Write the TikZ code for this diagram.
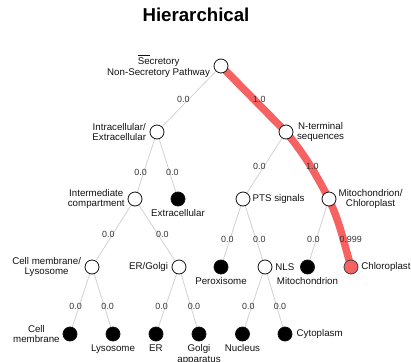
\documentclass[tikz,border=0pt]{standalone}
\usepackage{fontspec}
\setmainfont{Liberation Sans}
\usepackage{tikz}
\usetikzlibrary{positioning,backgrounds}
\definecolor{htbest}{HTML}{F66262}
\definecolor{htlink}{HTML}{D2D2D2}
\definecolor{htink}{HTML}{111111}
\tikzset{
  split/.style={circle,draw=htink,line width=0.6pt,fill=white,minimum size=10.5pt,inner sep=0pt},
  leaf/.style={circle,draw=htink,line width=0.6pt,fill=black,minimum size=10.5pt,inner sep=0pt},
  hit/.style={circle,draw=htink!80,line width=0.6pt,fill=htbest,minimum size=10.5pt,inner sep=0pt},
  link/.style={draw=htlink,line width=0.6pt},
  best/.style={draw=htbest,line width=5.6pt,line join=round},
  lab/.style={font=\fontsize{7.3pt}{8pt}\selectfont,align=center,inner sep=1pt,text=htink},
  elab/.style={font=\fontsize{6.7pt}{7pt}\selectfont,inner sep=0pt,text=htink!85},
}

\begin{document}
\begin{tikzpicture}[x=0.75pt,y=-0.75pt]
  \useasboundingbox (0,0) rectangle (411,361);
  \node[font=\fontsize{14pt}{16pt}\selectfont\bfseries] (title) at (196,14.5) {Hierarchical};

  % ---------- tree nodes ----------
  \node[split] (root) at (221,66) {};
  \node[split] (intra) at (157,132) {};
  \node[split] (nterm) at (286,132) {};
  \node[split] (inter) at (135,199) {};
  \node[leaf]  (extra) at (178,199) {};
  \node[split] (pts) at (243,199) {};
  \node[split] (mitchl) at (329,199) {};
  \node[split] (memlys) at (92,267) {};
  \node[split] (ergol) at (179,267) {};
  \node[leaf]  (perox) at (221,267) {};
  \node[split] (nls) at (265,267) {};
  \node[leaf]  (mitoc) at (307.5,267) {};
  \node[hit]   (chlor) at (351,267) {};
  \node[leaf]  (cellm) at (70,334) {};
  \node[leaf]  (lysos) at (113,334) {};
  \node[leaf]  (er) at (156,334) {};
  \node[leaf]  (golgi) at (199,334) {};
  \node[leaf]  (nucl) at (242.5,334) {};
  \node[leaf]  (cyto) at (285,334) {};

  % ---------- node labels ----------
  \node[lab,left=1.5pt of root] (rootl) {$\overline{\mbox{Se}}$cretory\\Non-Secretory Pathway};
  \node[lab,left=1.5pt of intra] (intral) {Intracellular/\\Extracellular};
  \node[lab,right=1.5pt of nterm] (nterml) {N-terminal\\sequences};
  \node[lab,left=1pt of inter] (interl) {Intermediate\\compartment};
  \node[lab,below=1pt of extra] (extral) {Extracellular};
  \node[lab,right=0.5pt of pts] (ptsl) {PTS signals};
  \node[lab,right=0.5pt of mitchl] (mitchll) {Mitochondrion/\\Chloroplast};
  \node[lab,left=1.5pt of memlys] (memlysl) {Cell membrane/\\Lysosome};
  \node[lab,left=1.5pt of ergol] (ergoll) {ER/Golgi};
  \node[lab,below=1pt of perox] (peroxl) {Peroxisome};
  \node[lab,right=1pt of nls] (nlsl) {NLS};
  \node[lab,below=1pt of mitoc] (mitocl) {Mitochondrion};
  \node[lab,right=1pt of chlor] (chlorl) {Chloroplast};
  \node[lab,left=1pt of cellm] (cellml) {Cell\\membrane};
  \node[lab,below=1pt of lysos] (lysosl) {Lysosome};
  \node[lab,below=1pt of er] (erl) {ER};
  \node[lab,below=1pt of golgi] (golgil) {Golgi\\apparatus};
  \node[lab,below=1pt of nucl] (nucll) {Nucleus};
  \node[lab,right=2pt of cyto] (cytol) {Cytoplasm};

  % ---------- connectors ----------
  \begin{scope}[on background layer]
    \foreach \a/\b in {root/intra,intra/inter,intra/extra,nterm/pts,inter/memlys,inter/ergol,
                       pts/perox,pts/nls,mitchl/mitoc,memlys/cellm,memlys/lysos,ergol/er,
                       ergol/golgi,nls/nucl,nls/cyto}
      \draw[link] (\a) -- (\b);
    \draw[best] (root.center) -- (nterm.center) to[out=-51,in=118] (mitchl.center)
      to[out=-66,in=106] (chlor.center);
  \end{scope}

  % ---------- scores ----------
  \foreach \x/\y/\v [count=\i] in {183.3/99.3/0.0,259.3/99.3/1.0,
      140.7/172.3/0.0,172.3/172.3/0.0,259.3/166.7/0.0,312.3/166.7/1.0,
      108.3/234.3/0.0,162.3/234.3/0.0,227.3/239.3/0.0,259.3/239.3/0.0,313.3/239.3/0.0,350.7/239.3/0.999,
      75.7/306.7/0.0,107.7/306.7/0.0,161.7/306.7/0.0,194/306.7/0.0,248.3/306.7/0.0,280/306.7/0.0}
    \node[elab] (s\i) at (\x,\y) {\v};
\end{tikzpicture}
\end{document}
